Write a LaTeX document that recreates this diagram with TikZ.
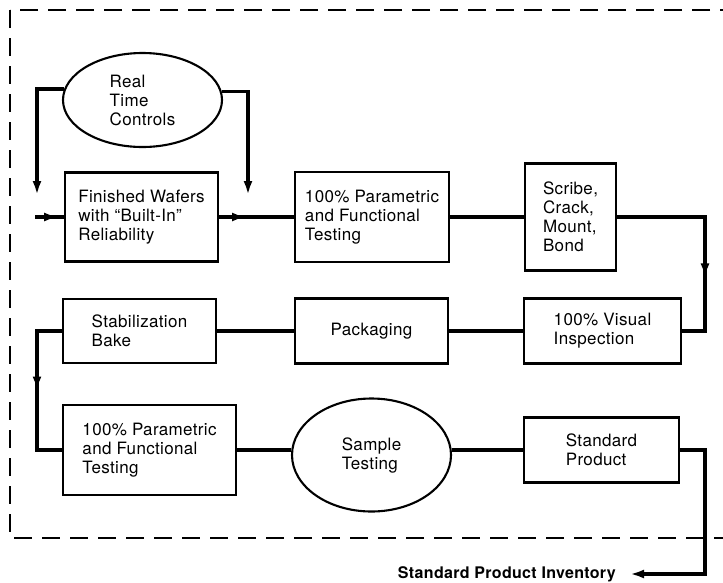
\documentclass[tikz,border=0pt]{standalone}
\usepackage{fontspec}
\setmainfont{TeX Gyre Heros}[LetterSpace=2]
\usetikzlibrary{arrows.meta, decorations.markings, shapes.geometric}

\begin{document}
\begin{tikzpicture}[x=1pt, y=-1pt, font=\fontsize{17}{19}\selectfont,
  box/.style={draw, line width=2.1pt, align=left, inner sep=0pt},
  oval/.style={draw, ellipse, line width=2.1pt, align=left, inner sep=0pt},
  link/.style={line width=3.2pt},
  tip/.style={-{Latex[length=14pt,width=9pt]}},
  midarrow/.style={postaction={decorate}, decoration={markings,
    mark=at position #1 with {\arrow{Latex[length=14pt,width=9pt]}}}}]
  \useasboundingbox (0,0) rectangle (723,582);
  \draw[line width=2.8pt, dash pattern=on 18pt off 10pt] (10,10) rectangle (728,538);

  \node[oval, minimum width=159pt, minimum height=94pt] (ctrl) at (142.5,100) {Real\\Time\\Controls};
  \node[box, minimum width=153pt, minimum height=89pt] (wafers) at (141.5,217) {Finished Wafers\\with “Built-In”\\Reliability};
  \node[box, minimum width=154pt, minimum height=90pt] (param1) at (372,217) {100\% Parametric\\and Functional\\Testing};
  \node[box, minimum width=91pt, minimum height=107pt] (scribe) at (570.5,217) {Scribe,\\Crack,\\Mount,\\Bond};
  \node[box, minimum width=157pt, minimum height=65pt] (visual) at (602.5,331) {100\% Visual\\Inspection};
  \node[box, minimum width=153pt, minimum height=65pt] (pack) at (371.5,331) {Packaging};
  \node[box, minimum width=153pt, minimum height=64pt] (bake) at (139.5,331) {Stabilization\\Bake};
  \node[box, minimum width=173pt, minimum height=90pt] (param2) at (149.5,450) {100\% Parametric\\and Functional\\Testing};
  \node[oval, minimum width=159pt, minimum height=113pt] (sample) at (371.5,455) {Sample\\Testing};
  \node[box, minimum width=155pt, minimum height=65pt] (product) at (601.5,450) {Standard\\Product};
  \node[font=\fontsize{16}{19}\bfseries\selectfont, anchor=east, inner xsep=14pt, inner ysep=0pt] (inv) at (630,574) {Standard Product Inventory};

  \coordinate (in) at (35,217);
  \coordinate (fbL) at (37,195);
  \coordinate (fbR) at (248,195);

  \draw[link, tip] (ctrl.172) -| (fbL);
  \draw[link, tip] (ctrl.6) -| (fbR);
  \draw[link, midarrow=0.8] (in) -- (wafers);
  \draw[link, midarrow=0.36] (wafers) -- (param1);
  \draw[link] (param1) -- (scribe);
  \draw[link, midarrow=0.66] (scribe) -| (705,331) -- (visual);
  \draw[link] (visual) -- (pack);
  \draw[link] (pack) -- (bake);
  \draw[link, midarrow=0.5] (bake) -| (37,450) -- (param2);
  \draw[link] (param2.east) -- (param2.east -| sample.west);
  \draw[link] (sample.east |- product.west) -- (product.west);
  \draw[link, tip] (product) -| (705,574) -- (inv);
\end{tikzpicture}
\end{document}
